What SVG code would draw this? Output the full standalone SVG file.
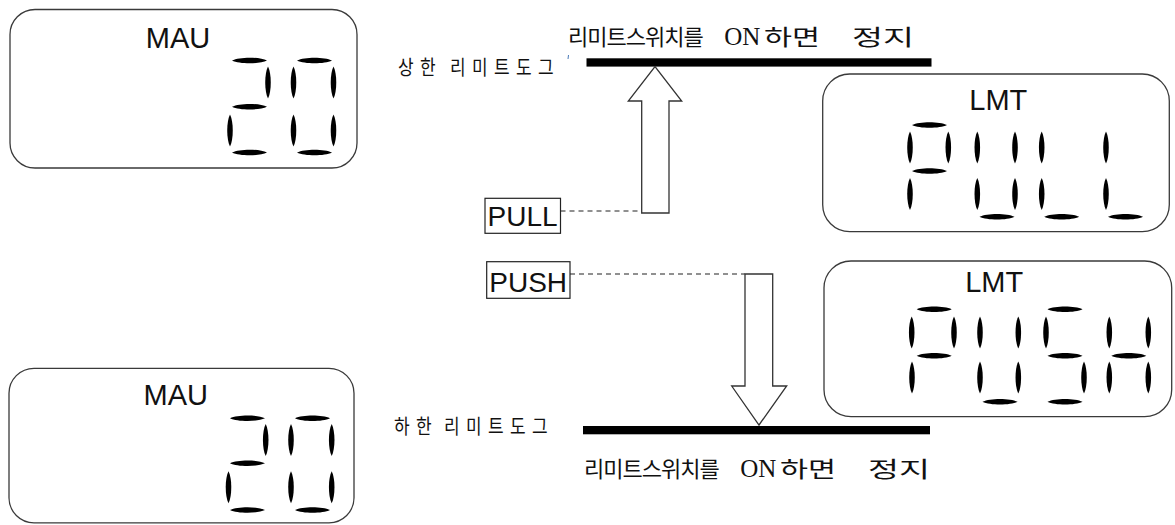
<svg xmlns="http://www.w3.org/2000/svg" width="1175" height="525" viewBox="0 0 1175 525">
<style>
.panel{fill:#fff;stroke:#3a3a3a;stroke-width:1.3}
.seg{fill:#000}
.ttl{font-family:"Liberation Sans",Arial,sans-serif;font-size:29px;fill:#111;text-anchor:middle}
.lbl{font-family:"Liberation Sans",Arial,sans-serif;font-size:28px;fill:#111}
.box{fill:none;stroke:#222;stroke-width:1.2}
.kr{font-family:"Noto Sans CJK KR","Liberation Sans",sans-serif;fill:#111}
.big{font-size:22px}
.tight{letter-spacing:-1px}
.small{font-size:17px}
.on{font-family:"Liberation Serif","Noto Sans CJK KR",serif;font-size:25px}
.bar{fill:#000}
.arrow{fill:#fff;stroke:#333;stroke-width:1.3}
.dash{fill:none;stroke:#222;stroke-width:1.2;stroke-dasharray:5 4}
</style>
<defs>
<path id="h" class="seg" d="M-17.5 0 C-10 -3.7 10 -3.7 17.5 0 C10 3.7 -10 3.7 -17.5 0Z"/>
<path id="v" class="seg" d="M0 -16 C-3.7 -9 -3.7 9 0 16 C3.7 9 3.7 -9 0 -16Z"/>
</defs>

<g id="connectors">
<line class="dash" x1="560.5" y1="211" x2="641.7" y2="211"/>
<line class="dash" x1="570" y1="274" x2="745" y2="274"/>
</g>

<g id="panel-mau-top">
<rect class="panel" x="10" y="9.5" width="347" height="158.5" rx="25"/>
<text class="ttl" x="178" y="48">MAU</text>
<use href="#h" x="249.5" y="60.5"/><use href="#v" x="268" y="82.5"/><use href="#h" x="249.5" y="106.7"/><use href="#v" x="230" y="130.5"/><use href="#h" x="249.5" y="152.5"/>
<use href="#h" x="314.5" y="60.5"/><use href="#v" x="293.5" y="82.5"/><use href="#v" x="333.5" y="82.5"/><use href="#v" x="293.5" y="130.5"/><use href="#v" x="333.5" y="130.5"/><use href="#h" x="314.5" y="152.5"/>
</g>

<g id="panel-mau-bottom">
<rect class="panel" x="9" y="368.3" width="345" height="154.5" rx="25"/>
<text class="ttl" x="175.7" y="405">MAU</text>
<use href="#h" x="247.5" y="418.3"/><use href="#v" x="265.7" y="440"/><use href="#h" x="247.5" y="463.3"/><use href="#v" x="228.5" y="487.3"/><use href="#h" x="247.5" y="510"/>
<use href="#h" x="312.5" y="418.3"/><use href="#v" x="291" y="440"/><use href="#v" x="331.7" y="440"/><use href="#v" x="291" y="487.3"/><use href="#v" x="331.7" y="487.3"/><use href="#h" x="312.5" y="510"/>
</g>

<g id="panel-lmt-pull">
<rect class="panel" x="822.7" y="74" width="346.6" height="157.7" rx="27"/>
<text class="ttl" x="998.3" y="110">LMT</text>
<use href="#h" x="929.5" y="125"/><use href="#v" x="910" y="147.5"/><use href="#v" x="948.3" y="147.5"/><use href="#h" x="929.5" y="171"/><use href="#v" x="910" y="194"/>
<use href="#v" x="977.3" y="147.5"/><use href="#v" x="1015" y="147.5"/><use href="#v" x="977.3" y="194"/><use href="#v" x="1015" y="194"/><use href="#h" x="997" y="216.7"/>
<use href="#v" x="1041.7" y="147.5"/><use href="#v" x="1041.7" y="194"/><use href="#h" x="1061.7" y="216.7"/>
<use href="#v" x="1106" y="147.5"/><use href="#v" x="1106" y="194"/><use href="#h" x="1125.5" y="216.7"/>
</g>

<g id="panel-lmt-push">
<rect class="panel" x="824" y="261" width="347.7" height="155.7" rx="27"/>
<text class="ttl" x="994.2" y="291.7">LMT</text>
<use href="#h" x="934.2" y="309.3"/><use href="#v" x="911.7" y="332.5"/><use href="#v" x="954" y="332.5"/><use href="#h" x="934.2" y="355.7"/><use href="#v" x="912" y="377.5"/>
<use href="#v" x="980" y="332.5"/><use href="#v" x="1018.3" y="332.5"/><use href="#v" x="980" y="377.5"/><use href="#v" x="1018.3" y="377.5"/><use href="#h" x="1000" y="401.7"/>
<use href="#h" x="1065" y="309.3"/><use href="#v" x="1046" y="332.5"/><use href="#h" x="1065" y="355.7"/><use href="#v" x="1084" y="377.5"/><use href="#h" x="1065" y="401.7"/>
<use href="#v" x="1109.3" y="332.5"/><use href="#v" x="1148.3" y="332.5"/><use href="#h" x="1128.8" y="355.7"/><use href="#v" x="1109.3" y="377.5"/><use href="#v" x="1148.3" y="377.5"/>
</g>

<g id="upper-limit">
<text class="kr big" y="45"><tspan class="tight" x="568">리미트스위치를</tspan><tspan class="on" x="718"> ON</tspan><tspan x="764" textLength="56" lengthAdjust="spacingAndGlyphs">하면</tspan> <tspan x="852" textLength="62" lengthAdjust="spacingAndGlyphs">정지</tspan></text>
<text class="kr small" transform="translate(0,75) scale(1,1.2)" y="0" x="398 420 442 450 472 494 516 538">상한 리미트도그</text>
<line x1="568.5" y1="55" x2="568" y2="59" stroke="#4a7ab8" stroke-width="1"/>
<rect class="bar" x="586.5" y="58.3" width="345" height="8.3"/>
</g>

<g id="lower-limit">
<text class="kr small" transform="translate(0,434) scale(1,1.2)" y="0" x="394 416 438 444 466 488 510 532">하한 리미트도그</text>
<rect class="bar" x="583" y="426" width="347" height="8.3"/>
<text class="kr big" y="477"><tspan class="tight" x="584">리미트스위치를</tspan><tspan class="on" x="734"> ON</tspan><tspan x="780" textLength="56" lengthAdjust="spacingAndGlyphs">하면</tspan> <tspan x="868" textLength="62" lengthAdjust="spacingAndGlyphs">정지</tspan></text>
</g>

<g id="arrow-up">
<polygon class="arrow" points="641.7,213 669,213 669,101 681.7,101 655,66.5 628.3,101 641.7,101"/>
</g>

<g id="arrow-down">
<polygon class="arrow" points="745,274 772.7,274 772.7,386 786.7,386 759,425 731.7,386 745,386"/>
</g>

<g id="label-pull">
<rect class="box" x="485" y="198.3" width="75.5" height="35"/>
<text class="lbl" x="487.5" y="225.7">PULL</text>
</g>

<g id="label-push">
<rect class="box" x="486.7" y="261.7" width="83.3" height="36.6"/>
<text class="lbl" x="489.3" y="291.7">PUSH</text>
</g>
</svg>
